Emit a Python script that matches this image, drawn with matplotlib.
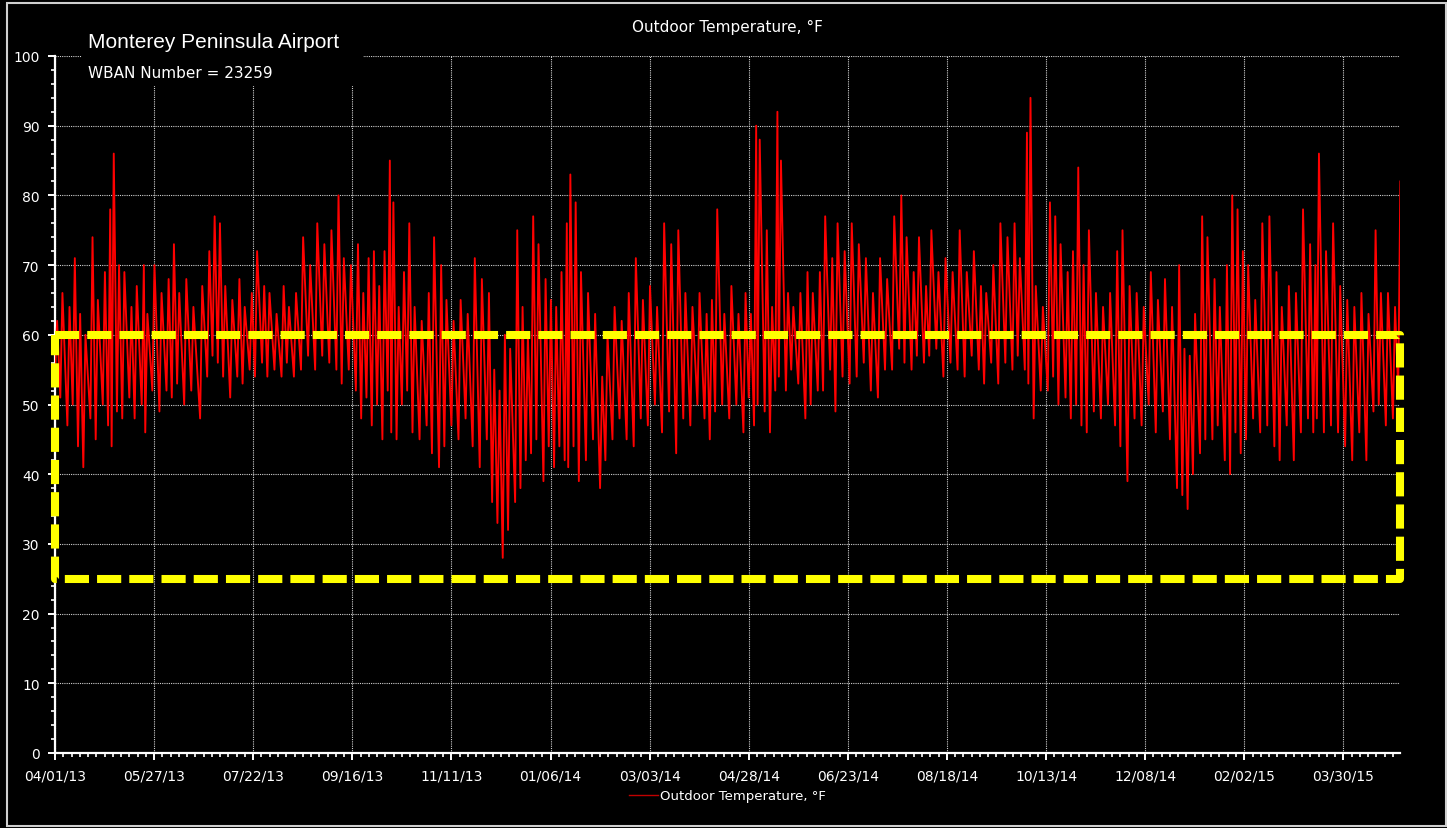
import datetime as dt

import matplotlib
matplotlib.use("Agg")
import matplotlib.dates as mdates
import matplotlib.pyplot as plt
import numpy as np
from matplotlib.patches import Rectangle
from matplotlib.ticker import MultipleLocator


START = dt.date(2013, 4, 1)
END = dt.date(2015, 5, 1)
TICK_STEP_DAYS = 56
BAND_LOW = 25
BAND_HIGH = 60

DAYS = [
    0, 3, 7, 10, 13, 16, 20, 23, 27, 30, 32, 35, 38, 42, 45, 49, 51, 55, 59, 63,
    66, 69, 73, 77, 82, 86, 89, 92,
    95, 99, 103, 106, 110, 113, 117, 120, 124, 128, 131, 135, 139, 143, 147, 151,
    155, 159, 162, 166, 170, 173, 176, 179, 182, 185, 188,
    190, 193, 196, 199, 202, 206, 210, 213, 217, 220, 224, 228, 232, 236, 240, 244,
    247, 250, 253, 256, 260, 263, 266, 269, 272, 276, 279, 282,
    285, 288, 290, 293, 296, 300, 304, 308, 311, 315, 319, 323, 327, 331, 335, 339,
    343, 347, 351, 355, 359, 363, 367, 370, 373, 377,
    381, 385, 389, 392, 395, 397, 401, 404, 407, 409, 413, 416, 420, 424, 427, 431,
    434, 438, 441, 445, 449, 453, 457, 461, 465, 469, 473,
    477, 480, 484, 487, 491, 494, 498, 502, 506, 510, 514, 518, 522, 525, 529, 533,
    537, 541, 544, 548, 550, 553, 557, 561, 564, 567, 571,
    574, 577, 580, 583, 587, 591, 595, 599, 602, 606, 610, 614, 618, 622, 626, 630,
    634, 637, 640, 643, 647, 650, 654, 657, 661, 664,
    667, 670, 673, 677, 681, 685, 689, 692, 696, 700, 704, 708, 711, 713, 717, 721,
    725, 729, 733, 737, 741, 745, 748, 752, 756, 759,
]
HIGHS = [
    62, 66, 64, 71, 63, 60, 74, 65, 69, 78, 86, 70, 69, 64, 67, 70, 63, 70, 66, 68,
    73, 66, 68, 64, 67, 72, 77, 76,
    67, 65, 68, 64, 66, 72, 67, 66, 63, 67, 64, 66, 74, 70, 76, 73,
    75, 80, 71, 70, 73, 66, 71, 72, 67, 72, 85,
    79, 64, 69, 76, 64, 62, 66, 74, 70, 65, 62, 65, 63, 71, 68, 66,
    55, 52, 60, 58, 75, 64, 60, 77, 73, 68, 65, 64,
    69, 76, 83, 79, 69, 66, 63, 54, 60, 64, 62, 66, 71, 65, 67, 64,
    76, 73, 75, 66, 64, 66, 63, 65, 78, 63,
    67, 63, 66, 63, 90, 88, 75, 64, 92, 85, 66, 64, 66, 69, 66, 69,
    77, 71, 76, 72, 76, 73, 71, 66, 71, 68, 77,
    80, 74, 69, 74, 67, 75, 69, 71, 69, 75, 69, 72, 67, 66, 70, 76,
    74, 76, 71, 89, 94, 67, 64, 79, 77, 73, 69,
    72, 84, 70, 75, 66, 64, 66, 72, 75, 67, 66, 64, 69, 65, 68, 64,
    70, 58, 57, 63, 77, 74, 68, 64, 70, 80,
    78, 72, 70, 65, 76, 77, 69, 64, 67, 66, 78, 73, 70, 86, 72, 76,
    67, 65, 64, 66, 63, 75, 66, 66, 64, 82,
]
LOWS = [
    55, 51, 47, 50, 44, 41, 48, 45, 50, 47, 44, 49, 48, 51, 48, 50, 46, 52, 49, 52,
    51, 53, 50, 52, 48, 54, 57, 56,
    54, 51, 54, 53, 55, 54, 56, 54, 55, 54, 56, 54, 55, 57, 55, 57,
    56, 55, 53, 55, 52, 48, 51, 47, 50, 45, 52,
    46, 45, 50, 52, 46, 45, 47, 43, 41, 44, 47, 45, 48, 44, 41, 45,
    36, 33, 28, 32, 36, 38, 42, 43, 45, 39, 44, 41,
    44, 42, 41, 44, 39, 42, 45, 38, 42, 45, 48, 45, 44, 48, 47, 50,
    46, 49, 43, 48, 47, 50, 48, 45, 49, 50,
    48, 50, 46, 51, 47, 50, 49, 46, 52, 54, 52, 55, 53, 48, 50, 52,
    52, 55, 49, 54, 53, 54, 56, 52, 51, 55, 55,
    58, 56, 55, 57, 56, 57, 58, 54, 56, 55, 54, 57, 55, 53, 56, 53,
    56, 55, 57, 55, 53, 48, 52, 52, 54, 50, 51,
    48, 50, 47, 46, 49, 48, 50, 47, 44, 39, 48, 47, 50, 46, 49, 45,
    38, 37, 35, 40, 43, 45, 45, 47, 42, 40,
    46, 43, 45, 48, 46, 47, 44, 42, 47, 42, 46, 48, 46, 48, 46, 47,
    46, 44, 42, 46, 42, 49, 50, 47, 48, 52,
]

TITLE = "Outdoor Temperature, \u00b0F"
STATION = "Monterey Peninsula Airport"
WBAN = "WBAN Number = 23259"


def main() -> None:
    start = mdates.date2num(START)
    end = mdates.date2num(END)
    days = np.asarray(DAYS, dtype=float)

    # trace runs low -> high for each sample so it looks like the hourly record
    x = np.empty(2 * len(days))
    y = np.empty(2 * len(days))
    x[0::2] = start + days
    x[1::2] = start + days + 1.2
    y[0::2] = LOWS
    y[1::2] = HIGHS

    fig = plt.figure(figsize=(14.47, 8.29), dpi=100, facecolor="black")
    ax = fig.add_axes([55 / 1447, 75 / 829, 1345 / 1447, 697 / 829])
    ax.set_facecolor("black")

    ax.plot(x, y, color="#FF0000", linewidth=1.35, label=TITLE, zorder=3)

    band_x = [start, end, end, start, start]
    band_y = [BAND_HIGH, BAND_HIGH, BAND_LOW, BAND_LOW, BAND_HIGH]
    ax.plot(band_x, band_y, color="#FFFF00", linewidth=5.8, linestyle=(0, (3, 1)),
            solid_capstyle="butt", dash_capstyle="butt", clip_on=False, zorder=4)

    ax.set_xlim(start, end)
    ax.set_ylim(0, 100)

    major = np.arange(start, end, TICK_STEP_DAYS)
    ax.set_xticks(major)
    ax.xaxis.set_major_formatter(mdates.DateFormatter("%m/%d/%y"))
    ax.set_xticks(np.arange(start, end, TICK_STEP_DAYS / 12), minor=True)
    ax.yaxis.set_major_locator(MultipleLocator(10))
    ax.yaxis.set_minor_locator(MultipleLocator(2))

    ax.grid(True, which="major", color="#D0D0D0", linestyle=(0, (1, 1)), linewidth=0.8)
    ax.set_axisbelow(True)

    for side in ("top", "right"):
        ax.spines[side].set_visible(False)
    for side in ("left", "bottom"):
        ax.spines[side].set_color("white")
        ax.spines[side].set_linewidth(1.6)

    ax.tick_params(which="major", colors="white", labelsize=10, length=5, width=1.4, pad=6)
    ax.tick_params(which="minor", colors="white", length=3, width=1.2)

    ax.set_title(TITLE, color="white", fontsize=11, pad=18)

    # black box behind the station label hides the top grid line
    fig.patches.append(Rectangle((82 / 1447, 742 / 829), 281 / 1447, 60 / 829,
                                 transform=fig.transFigure, facecolor="black",
                                 edgecolor="none", zorder=5))
    fig.text(88 / 1447, 786 / 829, STATION, color="white", fontsize=15,
             family="Liberation Sans", va="center", zorder=6)
    fig.text(88 / 1447, 756 / 829, WBAN, color="white", fontsize=11,
             va="center", zorder=6)

    leg = ax.legend(loc="upper center", bbox_to_anchor=(0.5, -0.035), frameon=False,
                    fontsize=9.5, handlelength=2.2, handletextpad=0.1, labelcolor="white")
    leg.get_lines()[0].set_color("#C00000")
    leg.get_lines()[0].set_linewidth(1.0)

    fig.patches.append(Rectangle((7 / 1447, 2 / 829), 1439 / 1447, 823 / 829,
                                 transform=fig.transFigure, facecolor="none",
                                 edgecolor="#CFCFCF", linewidth=1.5, zorder=0))

    fig.savefig("out.png", dpi=100, facecolor="black")
    plt.close(fig)


if __name__ == "__main__":
    main()
